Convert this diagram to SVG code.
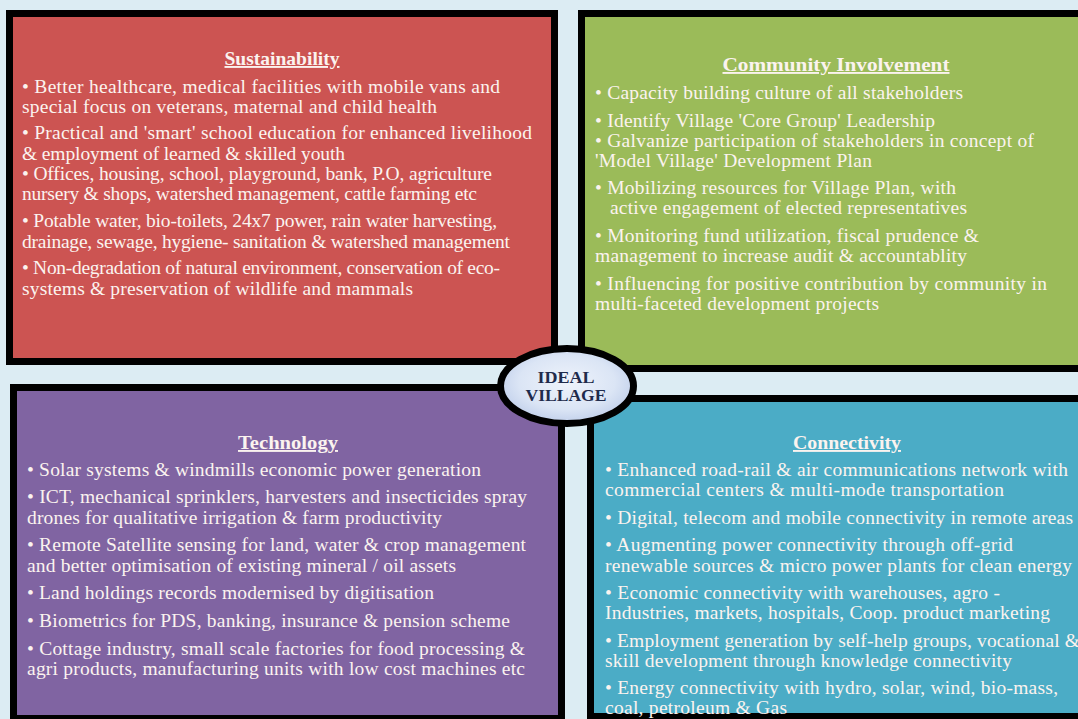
<svg xmlns="http://www.w3.org/2000/svg" width="1078" height="719" viewBox="0 0 1078 719">
  <style>
    .panel { stroke: #000; stroke-width: 7; }
    .body { font-family: 'Liberation Serif', serif; font-size: 19.5px; fill: #fbf3ef; }
    .title { font-family: 'Liberation Serif', serif; font-size: 19px; font-weight: bold; fill: #fbf3ef; text-decoration: underline; text-anchor: middle; }
    .hub { font-family: 'Liberation Serif', serif; font-size: 17px; font-weight: bold; fill: #1f2b4c; text-anchor: middle; }
  </style>
  <defs>
    <radialGradient id="hubFill" cx="50%" cy="45%" r="60%">
      <stop offset="0" stop-color="#eef3fb"/>
      <stop offset="0.6" stop-color="#dbe5f5"/>
      <stop offset="1" stop-color="#b9c9e8"/>
    </radialGradient>
  </defs>

  <rect width="1078" height="719" fill="#dcecf3"/>

  <!-- Sustainability -->
  <g id="sustainability">
    <rect class="panel" x="9.5" y="13.5" width="545" height="348" fill="#cc5452"/>
    <text class="title" x="282" y="65" textLength="115" lengthAdjust="spacingAndGlyphs">Sustainability</text>
    <text class="body" x="22" y="93" textLength="478">• Better healthcare, medical facilities with  mobile vans and</text>
    <text class="body" x="22" y="113" textLength="415">special focus on veterans, maternal and child health</text>
    <text class="body" x="22" y="139" textLength="510">• Practical and 'smart' school education for enhanced livelihood</text>
    <text class="body" x="22" y="160" textLength="323">&amp; employment of  learned &amp; skilled youth</text>
    <text class="body" x="22" y="180" textLength="470">• Offices, housing, school, playground, bank, P.O, agriculture</text>
    <text class="body" x="22" y="200" textLength="455">nursery &amp; shops, watershed management, cattle farming etc</text>
    <text class="body" x="22" y="227" textLength="475">• Potable water, bio-toilets, 24x7 power, rain water harvesting,</text>
    <text class="body" x="22" y="248" textLength="488">drainage, sewage, hygiene-  sanitation &amp; watershed management</text>
    <text class="body" x="22" y="274" textLength="478">• Non-degradation of natural environment, conservation of eco-</text>
    <text class="body" x="22" y="295" textLength="391">systems &amp; preservation of wildlife and mammals</text>
  </g>

  <!-- Community Involvement -->
  <g id="community">
    <rect class="panel" x="581.5" y="13.5" width="510" height="355" fill="#9bbb59"/>
    <text class="title" x="836" y="71" textLength="227" lengthAdjust="spacingAndGlyphs">Community Involvement</text>
    <text class="body" x="595" y="99" textLength="368">• Capacity building culture of all stakeholders</text>
    <text class="body" x="595" y="127" textLength="340">• Identify  Village 'Core Group' Leadership</text>
    <text class="body" x="595" y="147" textLength="439">• Galvanize participation of stakeholders in concept of</text>
    <text class="body" x="595" y="167" textLength="277">'Model Village' Development Plan</text>
    <text class="body" x="595" y="194" textLength="361">• Mobilizing resources for Village Plan, with</text>
    <text class="body" x="610" y="214" textLength="357">active engagement of elected representatives</text>
    <text class="body" x="595" y="242" textLength="384">• Monitoring fund utilization, fiscal prudence &amp;</text>
    <text class="body" x="595" y="262" textLength="372">management  to increase audit &amp; accountablity</text>
    <text class="body" x="595" y="290" textLength="452">•  Influencing  for positive contribution by community in</text>
    <text class="body" x="595" y="310" textLength="284">multi-faceted development projects</text>
  </g>

  <!-- Technology -->
  <g id="technology">
    <rect class="panel" x="13.5" y="387.5" width="548" height="331" fill="#8064a2"/>
    <text class="title" x="288" y="449" textLength="100" lengthAdjust="spacingAndGlyphs">Technology</text>
    <text class="body" x="27" y="476" textLength="454">• Solar systems &amp; windmills economic power generation</text>
    <text class="body" x="27" y="503" textLength="500">• ICT, mechanical sprinklers, harvesters and insecticides spray</text>
    <text class="body" x="27" y="524" textLength="415">drones for qualitative irrigation &amp; farm productivity</text>
    <text class="body" x="27" y="551" textLength="499">• Remote Satellite sensing for land, water &amp; crop management</text>
    <text class="body" x="27" y="572" textLength="429">and better optimisation of existing mineral / oil assets</text>
    <text class="body" x="27" y="599" textLength="407">• Land holdings records modernised by digitisation</text>
    <text class="body" x="27" y="627" textLength="483">• Biometrics for PDS, banking, insurance &amp; pension scheme</text>
    <text class="body" x="27" y="655" textLength="498">• Cottage industry, small scale factories for food processing &amp;</text>
    <text class="body" x="27" y="675" textLength="498">agri products, manufacturing units with low cost machines etc</text>
  </g>

  <!-- Connectivity -->
  <g id="connectivity">
    <rect class="panel" x="590.5" y="398.5" width="510" height="318" fill="#4bacc6"/>
    <text class="title" x="847" y="449" textLength="108" lengthAdjust="spacingAndGlyphs">Connectivity</text>
    <text class="body" x="605" y="476" textLength="463">• Enhanced road-rail &amp; air communications network with</text>
    <text class="body" x="605" y="496" textLength="399">commercial centers &amp;  multi-mode transportation</text>
    <text class="body" x="605" y="524" textLength="468">• Digital, telecom and mobile connectivity  in remote areas</text>
    <text class="body" x="605" y="551" textLength="408">• Augmenting power connectivity through off-grid</text>
    <text class="body" x="605" y="572" textLength="467">renewable sources  &amp; micro power plants for clean energy</text>
    <text class="body" x="605" y="599" textLength="395">• Economic connectivity with warehouses, agro -</text>
    <text class="body" x="605" y="619" textLength="445">Industries, markets, hospitals, Coop. product marketing</text>
    <text class="body" x="605" y="647" textLength="475">• Employment generation by self-help groups, vocational &amp;</text>
    <text class="body" x="605" y="667" textLength="407">skill development through knowledge connectivity</text>
    <text class="body" x="605" y="694" textLength="453">• Energy  connectivity with hydro, solar, wind, bio-mass,</text>
    <text class="body" x="605" y="714" textLength="182">coal, petroleum &amp; Gas</text>
  </g>

  <!-- central hub -->
  <g id="ideal-village">
    <ellipse cx="567" cy="386" rx="66.5" ry="37.5" fill="url(#hubFill)" stroke="#000" stroke-width="7"/>
    <text class="hub" x="566" y="383" textLength="57" lengthAdjust="spacingAndGlyphs">IDEAL</text>
    <text class="hub" x="566" y="401" textLength="81" lengthAdjust="spacingAndGlyphs">VILLAGE</text>
  </g>

  <g id="connectors"/>
</svg>
